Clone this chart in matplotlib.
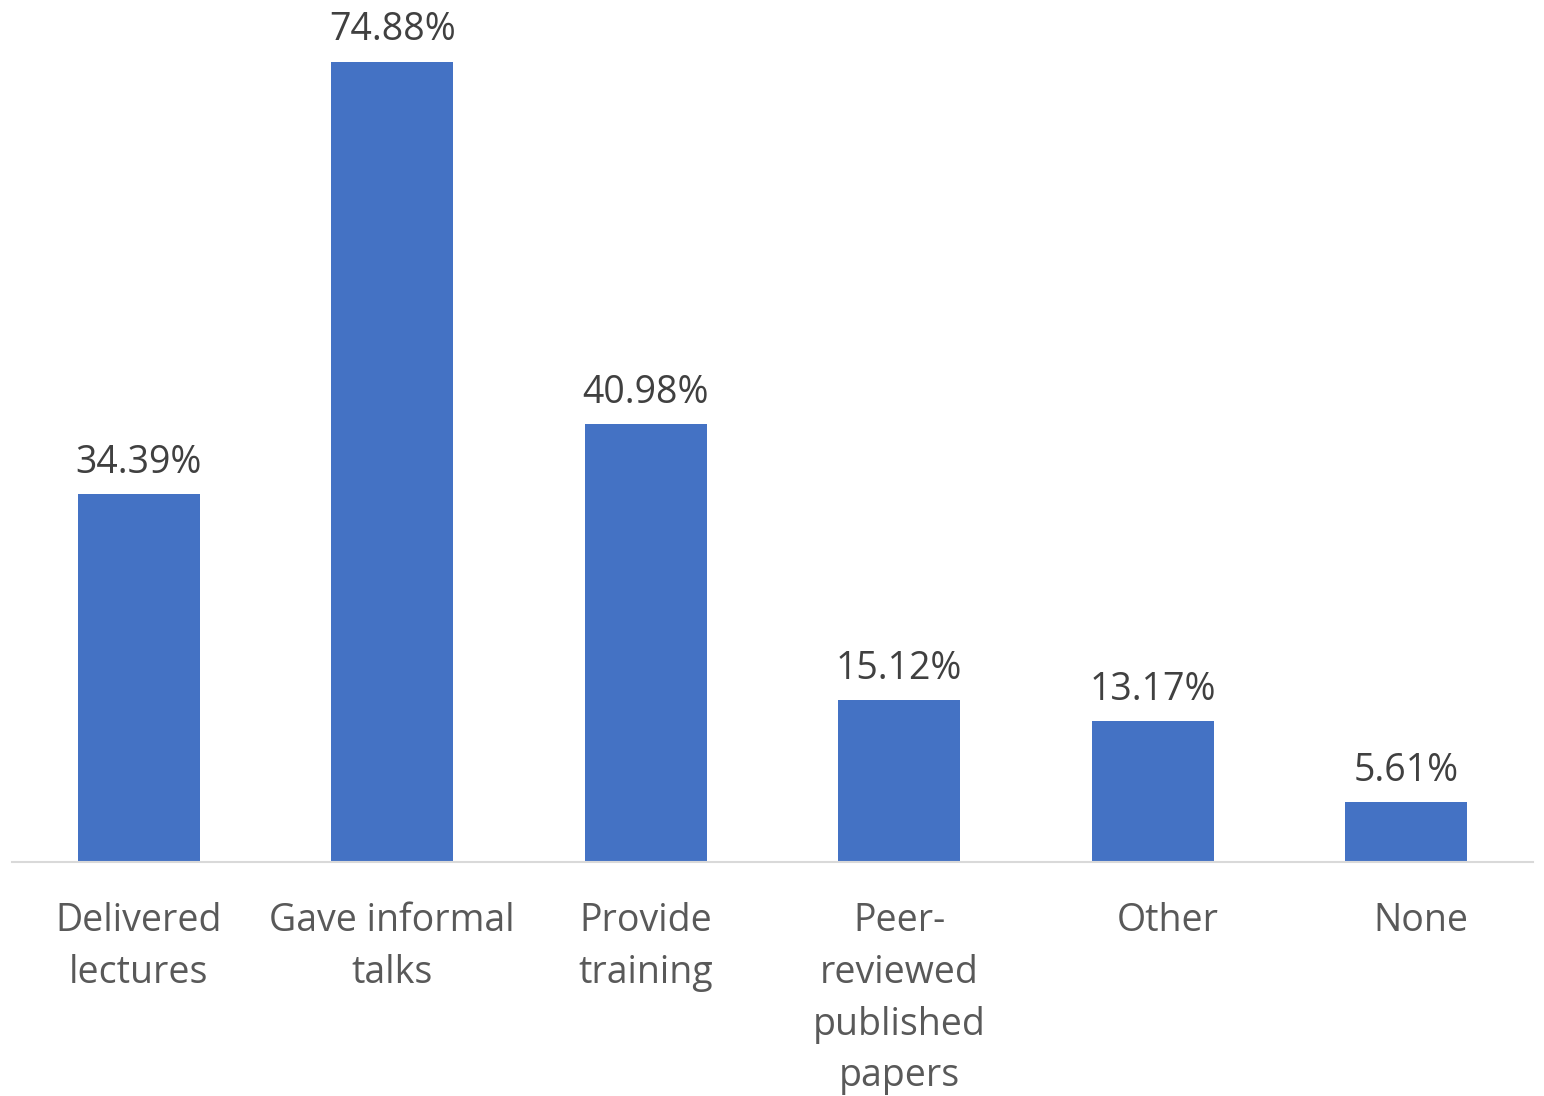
import matplotlib
matplotlib.use("Agg")
import matplotlib.pyplot as plt
from matplotlib.transforms import ScaledTranslation

categories = ["Delivered\nlectures", "Gave informal\ntalks", "Provide\ntraining",
              "Peer-\nreviewed\npublished\npapers", "Other", "None"]
values = [34.39, 74.88, 40.98, 15.12, 13.17, 5.61]
value_labels = ["34.39%", "74.88%", "40.98%", "15.12%", "13.17%", "5.61%"]

plt.rcParams['font.family'] = ['Open Sans', 'DejaVu Sans']

fig = plt.figure(figsize=(15.44, 10.96), dpi=100)
W, H = 1544, 1096
left, right = 12 / W, 1533 / W
bottom = 1 - 862 / H
top = 1 - 7 / H
ax = fig.add_axes([left, bottom, right - left, top - bottom])

x = list(range(len(categories)))
ax.bar(x, values, width=0.48, color="#4472C4", zorder=2)
ax.set_xlim(-0.5, len(categories) - 0.5)
ax.set_ylim(0, 80)

for xi, v, lab in zip(x, values, value_labels):
    ax.annotate(lab, (xi, v), xytext=(0, 9), textcoords="offset points",
                ha="center", va="bottom", fontsize=27, color="#404040")

ax.set_xticks(x)
ax.set_xticklabels(categories, fontsize=27, color="#595959", linespacing=1.47, va="top")
ax.tick_params(axis="x", length=0, pad=29)
ax.set_yticks([])
for s in ["top", "right", "left"]:
    ax.spines[s].set_visible(False)
ax.spines["bottom"].set_color("#D9D9D9")
ax.spines["bottom"].set_linewidth(1.5)

# single-line labels sit slightly right of their bar centres in the reference
labels = ax.get_xticklabels()
for i in (4, 5):
    labels[i].set_transform(labels[i].get_transform() + ScaledTranslation(15 / 100, 0, fig.dpi_scale_trans))

fig.savefig("out.png", dpi=100)
